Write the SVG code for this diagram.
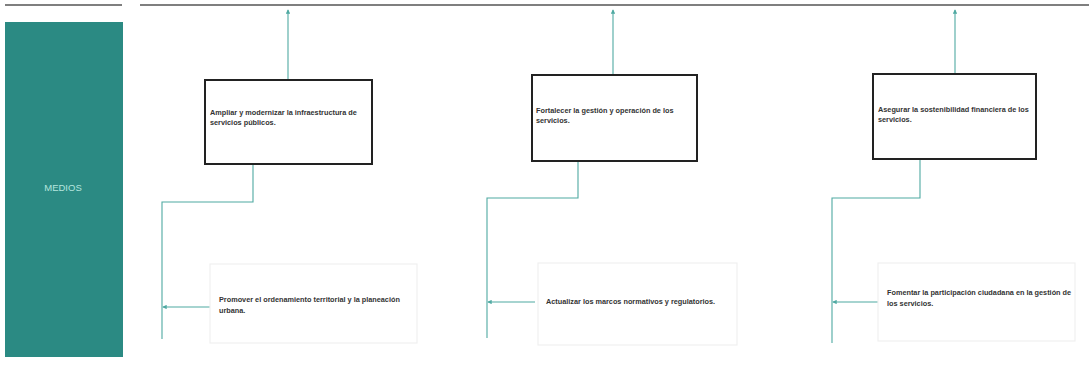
<svg xmlns="http://www.w3.org/2000/svg" width="1089" height="366" viewBox="0 0 1089 366">
<style>
.rule{stroke:#555;stroke-width:1.3;fill:none}
.box{fill:#fff;stroke:#222;stroke-width:2}
.faint{fill:#fff;stroke:#f0f0f0;stroke-width:1.2}
.lbl{font-family:"Liberation Sans",Arial,sans-serif;font-size:7.3px;font-weight:bold;fill:#333}
.conn{stroke:#4fa9a2;stroke-width:1.1;fill:none}
.title{font-family:"Liberation Sans",Arial,sans-serif;font-size:9.5px;fill:#b5e6df;text-anchor:middle}
</style>
<defs>
<marker id="arr" viewBox="0 0 6 6" refX="5" refY="3" markerWidth="4" markerHeight="4" orient="auto-start-reverse">
<path d="M0,0 L6,3 L0,6 z" fill="#4fa9a2"/>
</marker>
</defs>
<rect width="1089" height="366" fill="#fff"/>
<line class="rule" x1="5" y1="5" x2="122" y2="5"/>
<line class="rule" x1="140" y1="5" x2="1089" y2="5"/>
<g id="medios">
<rect x="5" y="22" width="118" height="335" fill="#2b8a83"/>
<text class="title" x="63" y="191">MEDIOS</text>
</g>
<g id="connectors">
<line class="conn" x1="288" y1="80" x2="288" y2="10" marker-end="url(#arr)"/>
<line class="conn" x1="613" y1="75" x2="613" y2="10" marker-end="url(#arr)"/>
<line class="conn" x1="955" y1="74" x2="955" y2="10" marker-end="url(#arr)"/>
<polyline class="conn" points="253,164 253,202 162,202 162,339"/>
<polyline class="conn" points="578,161 578,198 487,198 487,338"/>
<polyline class="conn" points="920,159 920,198 832,198 832,343"/>
<line class="conn" x1="215" y1="307" x2="163" y2="307" marker-end="url(#arr)"/>
<line class="conn" x1="535" y1="302" x2="488" y2="302" marker-end="url(#arr)"/>
<line class="conn" x1="882" y1="302" x2="833" y2="302" marker-end="url(#arr)"/>
</g>
<g id="fin1">
<rect class="box" x="205" y="80" width="167" height="84"/>
<text class="lbl" x="210" y="115">Ampliar y modernizar la infraestructura de</text>
<text class="lbl" x="210" y="125">servicios públicos.</text>
</g>
<g id="fin2">
<rect class="box" x="532" y="75" width="165" height="86"/>
<text class="lbl" x="536" y="113">Fortalecer la gestión y operación de los</text>
<text class="lbl" x="536" y="123">servicios.</text>
</g>
<g id="fin3">
<rect class="box" x="873" y="74" width="163" height="85"/>
<text class="lbl" x="878" y="112">Asegurar la sostenibilidad financiera de los</text>
<text class="lbl" x="878" y="122">servicios.</text>
</g>
<g id="medio1">
<rect class="faint" x="210" y="264" width="207" height="79"/>
<text class="lbl" x="219" y="302">Promover el ordenamiento territorial y la planeación</text>
<text class="lbl" x="219" y="313">urbana.</text>
</g>
<g id="medio2">
<rect class="faint" x="538" y="263" width="199" height="82"/>
<text class="lbl" x="546" y="304">Actualizar los marcos normativos y regulatorios.</text>
</g>
<g id="medio3">
<rect class="faint" x="878" y="263" width="197" height="78"/>
<text class="lbl" x="887" y="295">Fomentar la participación ciudadana en la gestión de</text>
<text class="lbl" x="887" y="306">los servicios.</text>
</g>
</svg>
